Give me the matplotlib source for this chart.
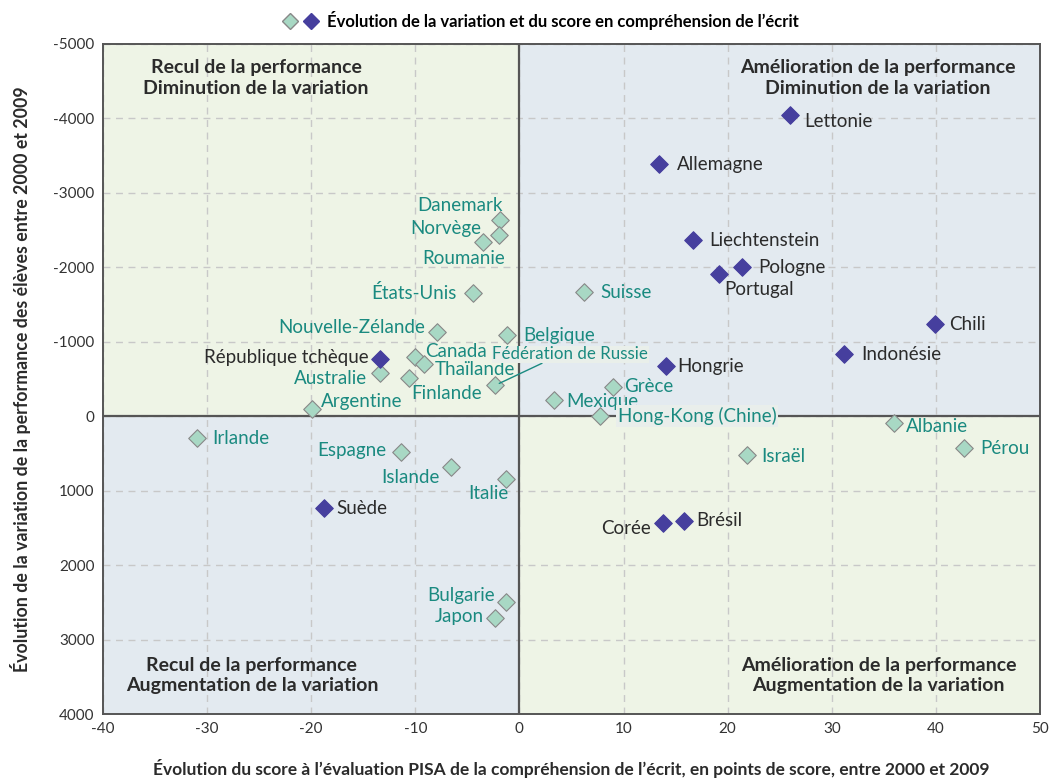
import numpy as np
import matplotlib
matplotlib.use("Agg")
import matplotlib.pyplot as plt
from matplotlib.patches import Rectangle
from matplotlib.lines import Line2D
from matplotlib.legend_handler import HandlerTuple

plt.rcParams['font.family'] = ['Lato', 'DejaVu Sans']
plt.rcParams['axes.unicode_minus'] = False

# Countries whose change in variation is significant (dark diamonds)
dark_names = ["Lettonie", "Allemagne", "Liechtenstein", "Pologne", "Portugal", "Chili",
              "Indonésie", "Hongrie", "République tchèque", "Suède", "Corée", "Brésil"]
dark_x = [26.0, 13.4, 16.7, 21.4, 19.2, 39.9, 31.2, 14.1, -13.4, -18.8, 13.8, 15.8]
dark_y = [-4046, -3387, -2366, -2003, -1909, -1237, -833, -672, -766, 1237, 1438, 1411]

# Other countries (light diamonds)
light_names = ["Danemark", "Norvège", "Roumanie", "États-Unis", "Nouvelle-Zélande", "Belgique",
               "Canada", "Thaïlande", "Australie", "Finlande", "Fédération de Russie",
               "Argentine", "Suisse", "Grèce", "Mexique", "Hong-Kong (Chine)", "Albanie",
               "Pérou", "Israël", "Irlande", "Espagne", "Islande", "Italie", "Bulgarie", "Japon"]
light_x = [-1.9, -2.0, -3.5, -4.5, -7.9, -1.2, -10.0, -9.2, -13.4, -10.6, -2.3,
           -19.9, 6.2, 9.0, 3.3, 7.7, 36.0, 42.7, 21.9, -31.0, -11.4, -6.6, -1.3, -1.25, -2.3]
light_y = [-2634, -2433, -2339, -1653, -1129, -1089, -793, -699, -578, -511, -417,
           -94, -1667, -390, -215, 0, 94, 430, 524, 296, 484, 685, 847, 2500, 2715]

# label placement: (dx, dy in pixels, ha)
dark_lab = {
    "Lettonie": (14, -6, 'left'), "Allemagne": (18, 0, 'left'), "Liechtenstein": (16, 0, 'left'),
    "Pologne": (16, 0, 'left'), "Portugal": (5, -15, 'left'), "Chili": (14, 0, 'left'),
    "Indonésie": (17, 0, 'left'), "Hongrie": (11, 0, 'left'),
    "République tchèque": (-11, 2, 'right'), "Suède": (13, 0, 'left'),
    "Corée": (-12, -5, 'right'), "Brésil": (12, 1, 'left'),
}
light_lab = {
    "Danemark": (3, 15, 'right'), "Norvège": (-17, 7, 'right'), "Roumanie": (22, -16, 'right'),
    "États-Unis": (-16, 0, 'right'), "Nouvelle-Zélande": (-12, 5, 'right'),
    "Belgique": (16, 0, 'left'), "Canada": (10, 6, 'left'), "Thaïlande": (11, -5, 'left'),
    "Australie": (-13, -5, 'right'), "Finlande": (2, -15, 'left'),
    "Argentine": (9, 8, 'left'), "Suisse": (16, 0, 'left'), "Grèce": (11, 1, 'left'),
    "Mexique": (12, -1, 'left'), "Albanie": (12, -3, 'left'), "Pérou": (16, 0, 'left'),
    "Israël": (14, -1, 'left'), "Irlande": (16, 0, 'left'), "Espagne": (-14, 2, 'right'),
    "Islande": (-11, -10, 'right'), "Italie": (3, -14, 'right'), "Bulgarie": (-12, 7, 'right'),
    "Japon": (-12, 2, 'right'),
}

dark_col = '#463F9E'
light_col = '#A8D8C4'
teal = '#1A8A80'
green_bg = '#EEF4E6'
blue_bg = '#E3EAF0'
lab_size = 13.5

fig = plt.figure(figsize=(10.51, 7.8), dpi=100)
ax = fig.add_axes([0.098, 0.0846, 0.8915, 0.859])

ax.set_xlim(-40, 50)
ax.set_ylim(4000, -5000)

# quadrant backgrounds
ax.add_patch(Rectangle((-40, -5000), 40, 5000, facecolor=green_bg, edgecolor='none', zorder=0))
ax.add_patch(Rectangle((0, -5000), 50, 5000, facecolor=blue_bg, edgecolor='none', zorder=0))
ax.add_patch(Rectangle((-40, 0), 40, 4000, facecolor=blue_bg, edgecolor='none', zorder=0))
ax.add_patch(Rectangle((0, 0), 50, 4000, facecolor=green_bg, edgecolor='none', zorder=0))

ax.set_xticks(np.arange(-40, 51, 10))
ax.set_yticks(np.arange(-5000, 4001, 1000))
ax.grid(True, color='#C8C8C8', linestyle=(0, (5, 4)), linewidth=1)
ax.set_axisbelow(True)
ax.axvline(0, color='#555555', lw=1.6, zorder=1)
ax.axhline(0, color='#555555', lw=1.6, zorder=1)
for s in ax.spines.values():
    s.set_color('#555555')
    s.set_linewidth(1.4)
ax.tick_params(length=0, labelsize=11, colors='#333333', pad=6)

ax.scatter(light_x, light_y, marker='D', s=80, facecolor=light_col, edgecolor='#888888',
           linewidth=0.8, zorder=3)
ax.scatter(dark_x, dark_y, marker='D', s=80, facecolor=dark_col, edgecolor=dark_col,
           linewidth=0.8, zorder=3)

for n, x, y in zip(dark_names, dark_x, dark_y):
    dx, dy, ha = dark_lab[n]
    ax.annotate(n, (x, y), xytext=(dx, dy), textcoords='offset pixels', ha=ha, va='center',
                fontsize=lab_size, color='#2B2B2B', zorder=4)

for n, x, y in zip(light_names, light_x, light_y):
    if n == "Fédération de Russie":
        ax.annotate(n, (x, y), xytext=(-2.6, -830), textcoords='data', ha='left', va='center',
                    fontsize=12.2, color=teal, zorder=4,
                    bbox=dict(boxstyle='square,pad=0.05', facecolor='#E9EFEA', edgecolor='none'),
                    arrowprops=dict(arrowstyle='-', color=teal, lw=1, relpos=(0.33, 0.0),
                                    shrinkA=0, shrinkB=3))
    elif n == "Hong-Kong (Chine)":
        ax.annotate(n, (x, y), xytext=(18, 0), textcoords='offset pixels', ha='left', va='center',
                    fontsize=lab_size, color=teal, zorder=4,
                    bbox=dict(boxstyle='square,pad=0.1', facecolor='#E9EEEB', edgecolor='none'))
    else:
        dx, dy, ha = light_lab[n]
        ax.annotate(n, (x, y), xytext=(dx, dy), textcoords='offset pixels', ha=ha, va='center',
                    fontsize=lab_size, color=teal, zorder=4)

# quadrant titles
qkw = dict(ha='center', va='center', fontsize=14, fontweight='bold', color='#2B2B2B',
           linespacing=1.25, zorder=4)
ax.text(-25.3, -4540, "Recul de la performance\nDiminution de la variation", **qkw)
ax.text(34.4, -4540, "Amélioration de la performance\nDiminution de la variation", **qkw)
ax.text(-25.7, 3480, "Recul de la performance\nAugmentation de la variation", **qkw)
ax.text(34.5, 3480, "Amélioration de la performance\nAugmentation de la variation", **qkw)

ax.set_xlabel("Évolution du score à l’évaluation PISA de la compréhension de l’écrit, en points de score, entre 2000 et 2009",
              fontsize=12.5, fontweight='bold', color='#2B2B2B', labelpad=16)
ax.set_ylabel("Évolution de la variation de la performance des élèves entre 2000 et 2009",
              fontsize=12.8, fontweight='bold', color='#2B2B2B', labelpad=16)

h1 = Line2D([], [], marker='D', ls='none', markersize=8, markerfacecolor=light_col,
            markeredgecolor='#888888')
h2 = Line2D([], [], marker='D', ls='none', markersize=8, markerfacecolor=dark_col,
            markeredgecolor=dark_col)
fig.legend([(h1, h2)], ["Évolution de la variation et du score en compréhension de l’écrit"],
           handler_map={tuple: HandlerTuple(ndivide=None, pad=0.6)},
           loc='upper center', bbox_to_anchor=(0.515, 1.005), frameon=False,
           prop=dict(weight='bold', size=12), handlelength=2.0, handletextpad=0.6)

fig.savefig("out.png", dpi=100)
